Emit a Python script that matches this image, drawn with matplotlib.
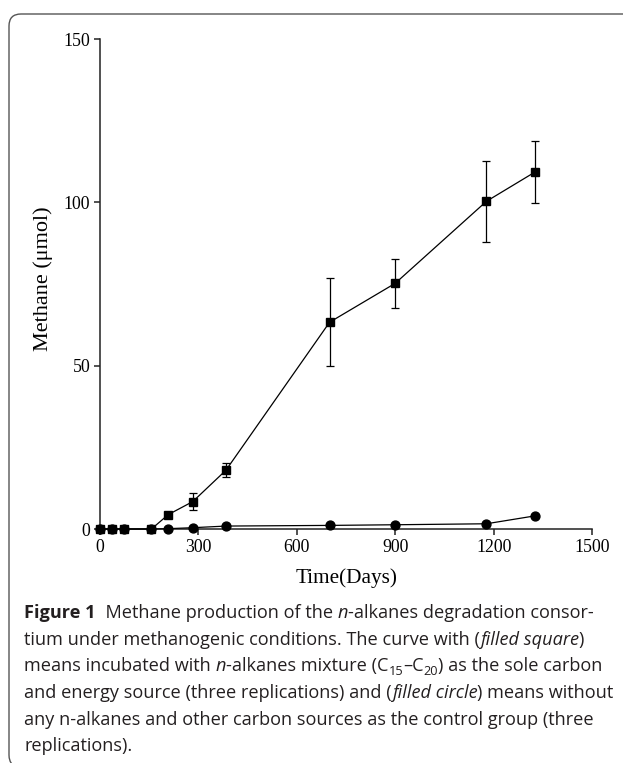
import re
import matplotlib
matplotlib.use("Agg")
import matplotlib.pyplot as plt
from matplotlib.patches import FancyBboxPatch
from matplotlib.transforms import IdentityTransform

# data
days_sq = [0, 38, 72, 157, 208, 283, 384, 700, 900, 1178, 1325]
methane_sq = [0, 0, 0, 0, 4.4, 8.4, 18.0, 63.3, 75.2, 100.3, 109.2]
err_sq = [0, 0, 0, 0, 0, 2.6, 2.1, 13.5, 7.5, 12.5, 9.5]

days_ci = [0, 38, 72, 157, 208, 283, 384, 700, 900, 1178, 1325]
methane_ci = [0, 0, 0, 0, 0.1, 0.4, 0.9, 1.1, 1.3, 1.6, 4.0]

xticks = [0, 300, 600, 900, 1200, 1500]
yticks = [0, 50, 100, 150]

caption_lines = [
    "**Figure 1**  Methane production of the *n*-alkanes degradation consor-",
    "tium under methanogenic conditions. The curve with (*filled square*)",
    "means incubated with *n*-alkanes mixture (C_{15}–C_{20}) as the sole carbon",
    "and energy source (three replications) and (*filled circle*) means without",
    "any n-alkanes and other carbon sources as the control group (three",
    "replications).",
]

W, H = 623, 763
SERIF = "Liberation Serif"
SANS = "Open Sans"
CAP_SIZE = 13.1

fig = plt.figure(figsize=(W / 100, H / 100), dpi=100)

# rounded frame around figure + caption
box = FancyBboxPatch((9, -4), 720, 753, boxstyle="round,pad=0,rounding_size=12",
                     transform=IdentityTransform(), fill=False, ec="#555555", lw=1.0)
fig.add_artist(box)

ax = fig.add_axes([100 / W, (H - 529) / H, (592 - 100) / W, (529 - 39) / H])
ax.plot(days_ci, methane_ci, "k-o", ms=6.4, lw=0.9, clip_on=False, zorder=3)
ax.plot(days_sq, methane_sq, "k-s", ms=5.9, lw=0.9, clip_on=False, zorder=4)

eb = [(d, m, e) for d, m, e in zip(days_sq, methane_sq, err_sq) if e > 0]
ax.errorbar([p[0] for p in eb], [p[1] for p in eb], yerr=[p[2] for p in eb],
            fmt="none", ecolor="k", elinewidth=0.9, capsize=2.6, capthick=0.9,
            clip_on=False, zorder=2)

ax.set_xlim(0, 1500)
ax.set_ylim(0, 150)
ax.set_xticks(xticks)
ax.set_yticks(yticks)
for s in ["top", "right"]:
    ax.spines[s].set_visible(False)
for s in ["left", "bottom"]:
    ax.spines[s].set_linewidth(1.1)
    ax.spines[s].set_color("#222222")
ax.tick_params(direction="out", length=4.5, width=1.1, color="#222222", pad=2.5)
for lab in ax.get_xticklabels() + ax.get_yticklabels():
    lab.set_family(SERIF)
    lab.set_fontsize(12.8)
ax.patch.set_visible(False)

fig.text(43 / W, (H - 279) / H, "Methane (μmol)", rotation=90, ha="center",
         va="center", family=SERIF, size=16)
fig.text(346 / W, (H - 578) / H, "Time(Days)", ha="center", va="center",
         family=SERIF, size=15.3)

# caption, drawn run by run
renderer = fig.canvas.get_renderer()
px = 100 / 72


def seg_kw(style):
    kw = dict(family=SANS, size=CAP_SIZE, color="#231f20")
    if style == "b":
        kw["weight"] = "bold"
    if style == "i":
        kw["style"] = "italic"
    if style == "s":
        kw["size"] = CAP_SIZE * 0.7
    return kw


def advance(s, style):
    # width of s including trailing spaces, measured against a bar glyph
    kw = seg_kw(style)
    a = fig.text(0, 0, s + "|", transform=IdentityTransform(), **kw)
    b = fig.text(0, 0, "|", transform=IdentityTransform(), **kw)
    w = a.get_window_extent(renderer).width - b.get_window_extent(renderer).width
    a.remove()
    b.remove()
    return w


pattern = r"(\*\*[^*]+\*\*|\*[^*]+\*|_\{[^}]+\})"

x0 = 24
baselines = [618, 645, 671, 698, 725, 751]
for line, yb in zip(caption_lines, baselines):
    x = x0
    for piece in re.split(pattern, line):
        if not piece:
            continue
        if piece.startswith("**"):
            txt, st = piece[2:-2], "b"
        elif piece.startswith("*"):
            txt, st = piece[1:-1], "i"
        elif piece.startswith("_{"):
            txt, st = piece[2:-1], "s"
        else:
            txt, st = piece, "r"
        dy = -0.22 * CAP_SIZE * px if st == "s" else 0
        fig.text(x, H - yb + dy, txt, transform=IdentityTransform(), ha="left",
                 va="baseline", **seg_kw(st))
        x += advance(txt, st)

fig.savefig("out.png", dpi=100)
